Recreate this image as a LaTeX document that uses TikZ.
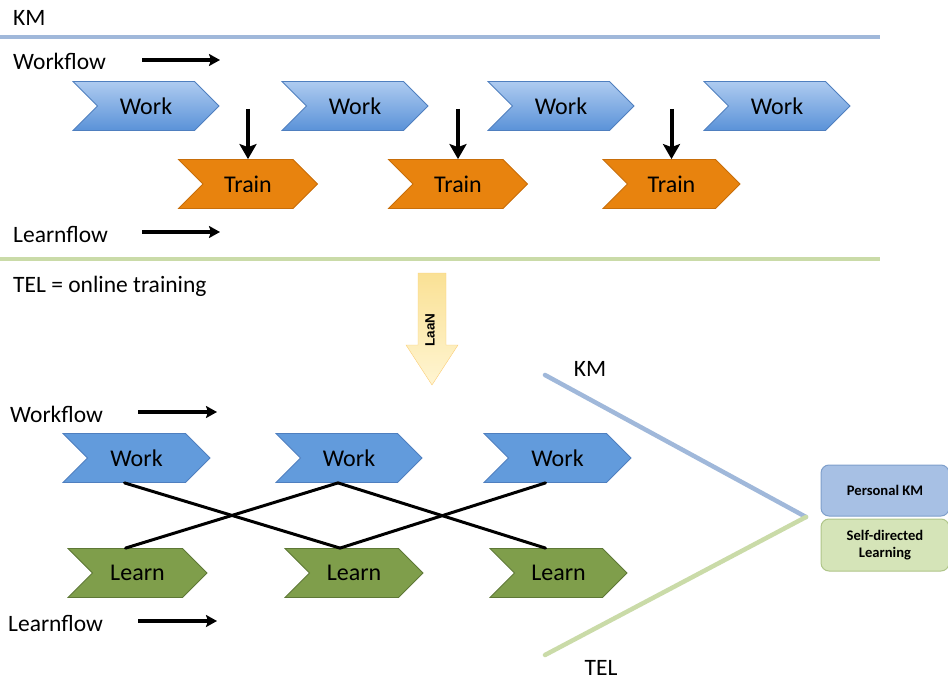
\documentclass[tikz,border=0pt]{standalone}
\usepackage{fontspec}
\setmainfont{Carlito}
\newfontfamily\arialfont{Liberation Sans}
\usetikzlibrary{shapes.symbols,arrows.meta,calc}
\definecolor{workbluetop}{HTML}{AECBF0}
\definecolor{workbluebot}{HTML}{5A92D8}
\definecolor{workblue}{HTML}{629BDC}
\definecolor{workedge}{HTML}{4F7FBF}
\definecolor{trainorange}{HTML}{E8830E}
\definecolor{trainedge}{HTML}{C86E0A}
\definecolor{learngreen}{HTML}{7F9E4B}
\definecolor{learnedge}{HTML}{5E7836}
\definecolor{kmblue}{HTML}{A0B8DA}
\definecolor{telgreen}{HTML}{CADBA8}
\definecolor{pkmfill}{HTML}{A7C0E4}
\definecolor{pkmedge}{HTML}{7F9FCB}
\definecolor{sdlfill}{HTML}{D5E4B8}
\definecolor{sdledge}{HTML}{AFC589}
\definecolor{laantop}{HTML}{FAE195}
\definecolor{laanbot}{HTML}{FFF5D2}
\begin{document}
\begin{tikzpicture}[x=1pt,y=-1pt,
  lbl/.style={font=\fontsize{23.5}{26}\selectfont, inner sep=0, anchor=west},
  chev/.style={signal, signal to=east, signal from=west, signal pointer angle=90,
    minimum height=49, inner sep=0, font=\fontsize{24}{26}\selectfont, text=black, line width=0.8},
  workg/.style={chev, draw=workedge, top color=workbluetop, bottom color=workbluebot},
  workf/.style={chev, draw=workedge, fill=workblue},
  trainbox/.style={chev, draw=trainedge, fill=trainorange},
  learnbox/.style={chev, draw=learnedge, fill=learngreen},
  flowarrow/.style={line width=3.2, -{Stealth[length=11,width=12,inset=2]}},
  downarrow/.style={line width=4, -{Stealth[length=15,width=17,inset=3]}},
  cross/.style={line width=3, line cap=round},
  sepline/.style={line width=4.5},
  sidebox/.style={rounded corners=8, minimum width=128, inner sep=0, line width=1,
    font=\fontsize{14.6}{17}\selectfont\bfseries, align=center}
]
\useasboundingbox (0,0) rectangle (948,682);

% ---------- top part ----------
\node[lbl] (km1) at (13,18) {KM};
\coordinate (sepA) at (0,37);
\coordinate (sepB) at (880,37);
\draw[sepline, kmblue] (sepA) -- (sepB);

\node[lbl] (wf1) at (13,61) {Workflow};
\coordinate (wfa1) at (142,60);
\coordinate (wfb1) at (220,60);
\draw[flowarrow] (wfa1) -- (wfb1);

\node[workg, minimum width=146] (w1) at (146,106) {Work};
\node[workg, minimum width=146] (w2) at (355,106) {Work};
\node[workg, minimum width=146] (w3) at (561,106) {Work};
\node[workg, minimum width=146] (w4) at (777,106) {Work};

\node[trainbox, minimum width=139] (t1) at (248,184) {Train};
\node[trainbox, minimum width=139] (t2) at (458,184) {Train};
\node[trainbox, minimum width=137] (t3) at (671.5,184) {Train};

\draw[downarrow] ($(t1.north |- w1.center)+(0,3)$) -- (t1.north);
\draw[downarrow] ($(t2.north |- w2.center)+(0,3)$) -- (t2.north);
\draw[downarrow] ($(t3.north |- w3.center)+(0,3)$) -- (t3.north);

\node[lbl] (lf1) at (13,234) {Learnflow};
\coordinate (lfa1) at (142,232);
\coordinate (lfb1) at (220,232);
\draw[flowarrow] (lfa1) -- (lfb1);

\coordinate (sepC) at (0,259);
\coordinate (sepD) at (880,259);
\draw[sepline, telgreen] (sepC) -- (sepD);

\node[lbl] (tel1) at (13,286) {TEL = online training};

% ---------- LaaN arrow ----------
\path[top color=laantop, bottom color=laanbot, draw=laantop!80!orange, line width=0.4]
  (418,273) -- (446,273) -- (446,345) -- (458,345) -- (432,385) -- (406,345) -- (418,345) -- cycle;
\node[rotate=90, font=\arialfont\bfseries\fontsize{13.5}{14}\selectfont, inner sep=0] (laan) at (430,330) {LaaN};

% ---------- bottom part ----------
\node[lbl] (wf2) at (10,414) {Workflow};
\coordinate (wfa2) at (138,412);
\coordinate (wfb2) at (217,412);
\draw[flowarrow] (wfa2) -- (wfb2);

\node[workf, minimum width=147] (bw1) at (136.5,458) {Work};
\node[workf, minimum width=146] (bw2) at (349,458) {Work};
\node[workf, minimum width=147] (bw3) at (557.5,458) {Work};

\node[learnbox, minimum width=139] (l1) at (137.5,573) {Learn};
\node[learnbox, minimum width=138] (l2) at (354,573) {Learn};
\node[learnbox, minimum width=137] (l3) at (558.5,573) {Learn};

\draw[cross] ($(bw1.south)+(-12,0)$) -- ($(l2.north)+(-14,0)$);
\draw[cross] ($(l1.north)+(-12,0)$) -- ($(bw2.south)+(-11,0)$);
\draw[cross] ($(bw2.south)+(-11,0)$) -- ($(l3.north)+(-13,0)$);
\draw[cross] ($(l2.north)+(-14,0)$) -- ($(bw3.south)+(-12,0)$);

\node[lbl] (lf2) at (8,623) {Learnflow};
\coordinate (lfa2) at (138,621);
\coordinate (lfb2) at (217,621);
\draw[flowarrow] (lfa2) -- (lfb2);

% ---------- KM / TEL wedge ----------
\coordinate (apex) at (806,517);
\coordinate (kmend) at (545,375);
\coordinate (telend) at (545,655);
\draw[sepline, kmblue, line cap=round] (kmend) -- (apex);
\draw[sepline, telgreen, line cap=round] (telend) -- (apex);
\node[font=\fontsize{23.5}{26}\selectfont, inner sep=0] (km2) at (590,369) {KM};
\node[font=\fontsize{23.5}{26}\selectfont, inner sep=0] (tel2) at (601,668) {TEL};

\node[sidebox, draw=pkmedge, fill=pkmfill, minimum height=51] (pkm) at (885,490.5) {Personal KM};
\node[sidebox, draw=sdledge, fill=sdlfill, minimum height=52] (sdl) at (885,545) {Self-directed\\Learning};
\end{tikzpicture}
\end{document}
